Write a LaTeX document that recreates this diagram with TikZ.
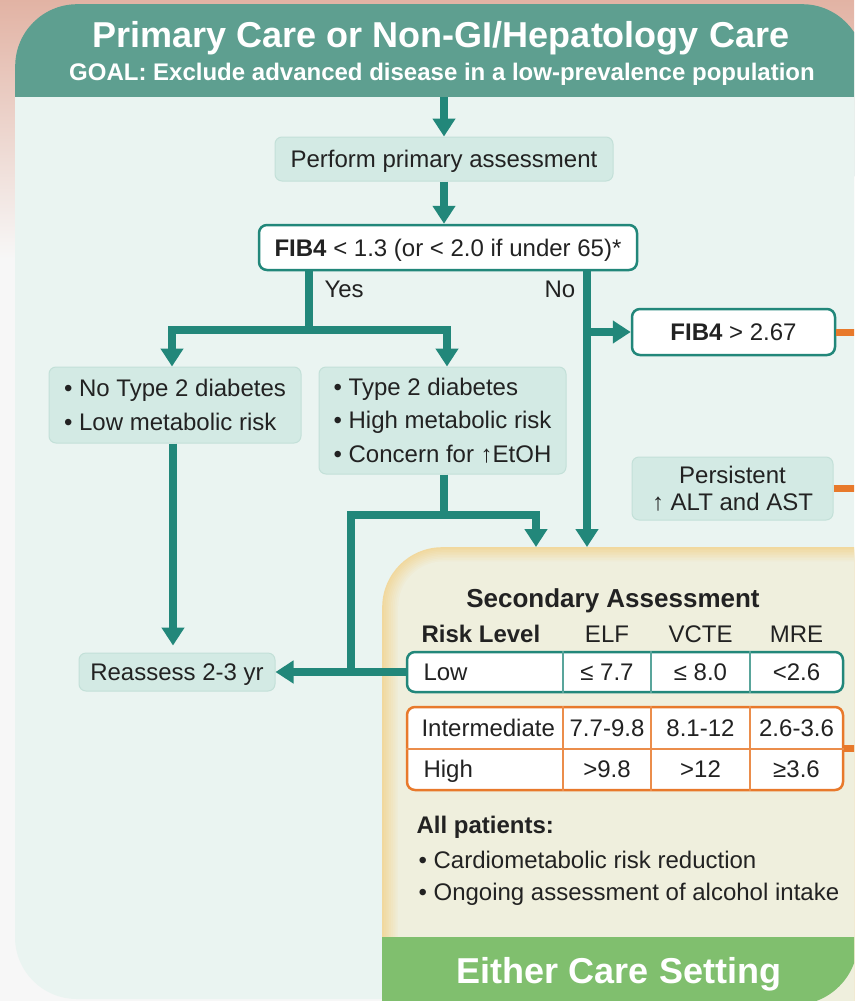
\documentclass[tikz,border=0pt]{standalone}
\usepackage{fontspec}
\setmainfont{Liberation Sans}
\usetikzlibrary{arrows.meta}
\definecolor{tealA}{HTML}{22877A}
\definecolor{hdrC}{HTML}{5E9F90}
\definecolor{panelC}{HTML}{EAF4F1}
\definecolor{boxC}{HTML}{D3EAE4}
\definecolor{boxE}{HTML}{C3E0D8}
\definecolor{orngC}{HTML}{E8792B}
\definecolor{tanC}{HTML}{F1D89E}
\definecolor{creamC}{HTML}{EFEFDD}
\definecolor{grnC}{HTML}{80BF6E}
\definecolor{pinkC}{HTML}{E2B3A4}
\definecolor{txtC}{HTML}{222222}
\begin{document}
\begin{tikzpicture}[x=1pt,y=-1pt,
  every node/.style={text=txtC, font=\fontsize{24}{29}\selectfont},
  tbox/.style={fill=boxC, draw=boxE, line width=1pt, rounded corners=7pt, inner sep=0pt},
  wbox/.style={fill=white, draw=tealA, line width=2.5pt, rounded corners=8pt, inner sep=0pt},
  one/.style={text height=17pt, text depth=0pt},
  tl/.style={draw=tealA, line width=7.5pt},
  ta/.style={tl, -{Triangle[width=22pt,length=18pt]}},
  ol/.style={draw=orngC, line width=7pt},
  oa/.style={ol, -{Triangle[width=21pt,length=17pt]}},
  cellT/.style={draw=tealA!75, line width=1.5pt},
  cellO/.style={draw=orngC!85, line width=1.5pt},
  bold36/.style={font=\bfseries\fontsize{36}{40}\selectfont, text=white},
]
\useasboundingbox (0,0) rectangle (854,1001);
\clip (0,0) rectangle (854,1001);
% background
\fill[white!97!black] (0,0) rectangle (854,1001);
\shade[top color=pinkC, bottom color=white!97!black] (0,0) rectangle (854,260);
% header
\node[fill=hdrC, rounded corners=62pt, minimum width=849pt, minimum height=200pt, inner sep=0pt, anchor=north west] (hdr) at (15,4) {};
% main panel
\fill[panelC] (870,97) -- (15,97) [rounded corners=62pt] -- (15,999) [sharp corners] -- (870,999) -- cycle;
\node[bold36, anchor=base] (title) at (441,47) {Primary Care or Non-GI/Hepatology Care};
\node[font=\bfseries\fontsize{24}{28}\selectfont, text=white, anchor=base] (goal) at (442,80) {GOAL: Exclude advanced disease in a low-prevalence population};
% secondary panel (soft tan edge fading to cream)
\node[fill=tanC, rounded corners=60pt, minimum width=600pt, minimum height=560pt, inner sep=0pt, anchor=north west] (sec) at (382,547) {};
\foreach \i in {1,...,9}{
  \pgfmathsetmacro{\pc}{\i*100/9}
  \fill[creamC!\pc!tanC, rounded corners={60pt-\i*1.6pt}] ({382+\i*1.8},{547+\i*1.6}) rectangle (1000,1100);
}
\fill[grnC] (382,937) -- (858,937) [rounded corners=64pt] -- (858,1005) [sharp corners] -- (382,1005) -- cycle;
\node[bold36, anchor=base] (either) at (619,983) {Either Care Setting};
% flow nodes
\node[tbox, one, minimum width=338pt, minimum height=44pt] (perf) at (444,159) {Perform primary assessment};
\node[wbox, one, minimum width=378pt, minimum height=45pt] (fib) at (448,247.5) {\textbf{FIB4} < 1.3 (or < 2.0 if under 65)*};
\node[wbox, one, minimum width=203pt, minimum height=46pt] (fibh) at (733.5,332) {\textbf{FIB4} > 2.67};
\node[tbox, align=left, font=\fontsize{24}{33.5}\selectfont, minimum width=252pt, minimum height=76pt] (boxA) at (175,405) {• No Type 2 diabetes\\• Low metabolic risk};
\node[tbox, align=left, font=\fontsize{24}{33.5}\selectfont, minimum width=247pt, minimum height=107pt] (boxB) at (442.5,420.5) {• Type 2 diabetes\\• High metabolic risk\\• Concern for ↑EtOH};
\node[tbox, align=center, font=\fontsize{24}{27}\selectfont, minimum width=201pt, minimum height=63pt] (pers) at (732.5,488.5) {Persistent\\↑ ALT and AST};
\node[tbox, one, minimum width=196pt, minimum height=38pt] (reas) at (177,672) {Reassess 2-3 yr};
\node[anchor=base west] (yes) at (321,297) {Yes};
\node[anchor=base west] (no) at (541,297) {No};
% secondary table
\node[font=\bfseries\fontsize{26}{30}\selectfont, anchor=base] (sectitle) at (613,607) {Secondary Assessment};
\node[font=\bfseries\fontsize{24}{28}\selectfont, anchor=base west] (rl) at (418,642) {Risk Level};
\node[anchor=base] (elf) at (607,642) {ELF};
\node[anchor=base] (vcte) at (700.5,642) {VCTE};
\node[anchor=base] (mre) at (796.5,642) {MRE};
\node[fill=white, draw=tealA, line width=2.5pt, rounded corners=8pt, minimum width=436pt, minimum height=40pt, inner sep=0pt] (low) at (625,672) {};
\node[fill=white, draw=orngC, line width=2.5pt, rounded corners=8pt, minimum width=436pt, minimum height=83pt, inner sep=0pt] (mid) at (625,748.5) {};
\coordinate (c1) at (563,0);
\coordinate (c2) at (651,0);
\coordinate (c3) at (750,0);
\coordinate (r1) at (0,749);
\foreach \c in {c1,c2,c3}{
  \draw[cellT] (low.north -| \c) -- (low.south -| \c);
  \draw[cellO] (mid.north -| \c) -- (mid.south -| \c);
}
\draw[cellO] (mid.west |- r1) -- (mid.east |- r1);
\node[anchor=base west] (lowt) at (420,680.5) {Low};
\node[anchor=base] (low1) at (607,680.5) {≤ 7.7};
\node[anchor=base] (low2) at (700.5,680.5) {≤ 8.0};
\node[anchor=base] (low3) at (796.5,680.5) {<2.6};
\node[anchor=base west] (midt) at (418,736.5) {Intermediate};
\node[anchor=base] (mid1) at (607,736.5) {7.7-9.8};
\node[anchor=base] (mid2) at (700.5,736.5) {8.1-12};
\node[anchor=base] (mid3) at (796.5,736.5) {2.6-3.6};
\node[anchor=base west] (hight) at (420,777.5) {High};
\node[anchor=base] (high1) at (607,777.5) {>9.8};
\node[anchor=base] (high2) at (700.5,777.5) {>12};
\node[anchor=base] (high3) at (796.5,777.5) {≥3.6};
\node[font=\bfseries\fontsize{24}{28}\selectfont, anchor=base west] (allp) at (413,833) {All patients:};
\node[anchor=base west] (bul1) at (415,868) {• Cardiometabolic risk reduction};
\node[anchor=base west] (bul2) at (415,900) {• Ongoing assessment of alcohol intake};
% connectors
\coordinate (hb) at (444,97);
\draw[ta] (hb) -- (perf.north);
\draw[ta] (perf.south) -- (perf.south |- fib.north);
\coordinate (jY) at (309,330);
\coordinate (jL) at (172,330);
\coordinate (jR) at (447,330);
\draw[tl] (fib.south -| jY) -- (jY);
\draw[ta] (jY) -| (jL |- boxA.north);
\draw[ta] (jY) -| (jR |- boxB.north);
\coordinate (nX) at (587,330);
\draw[ta] (fib.south -| nX) -- (nX |- sec.north);
\draw[ta] (nX |- fibh.west) -- (fibh.west);
\draw[ol] (fibh.east) -- ++(40,0);
\draw[oa] (pers.east) -- ++(38,0);
\draw[ol] (mid.east) -- ++(30,0);
\coordinate (aX) at (173,0);
\draw[ta, shorten >=7pt] (boxA.south -| aX) -- (aX |- reas.north);
\coordinate (jB) at (444,515);
\coordinate (bR) at (536,515);
\coordinate (bL) at (351,672);
\draw[tl] (boxB.south -| jB) -- (jB);
\draw[ta] (jB) -| (bR |- sec.north);
\draw[tl] (jB) -| (bL);
\draw[ta] (low.west) -- (reas.east);
\end{tikzpicture}
\end{document}
